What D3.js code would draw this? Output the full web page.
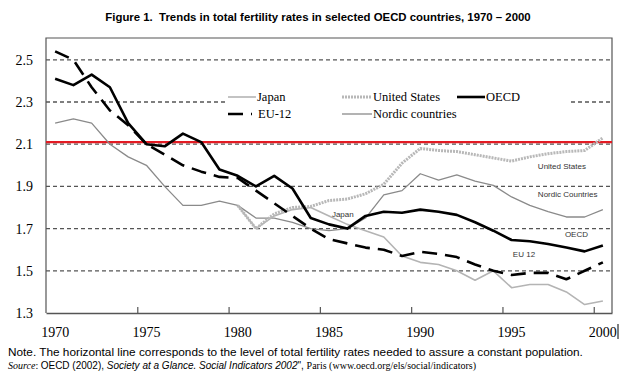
<!DOCTYPE html>
<html>
<head>
<meta charset="utf-8">
<script src="https://cdn.jsdelivr.net/npm/d3@7"></script>
<style>
  body { margin: 0; background: #fff; }
  text { white-space: pre; }
</style>
</head>
<body>
<div id="chart"></div>
<script>
// values
const years = d3.range(1970, 2001)
const oecd = [2.41, 2.38, 2.43, 2.37, 2.20, 2.10, 2.09, 2.15, 2.11, 1.98, 1.95, 1.90, 1.95, 1.89, 1.75, 1.72, 1.70, 1.76, 1.78, 1.775, 1.79, 1.78, 1.765, 1.73, 1.69, 1.646, 1.64, 1.627, 1.61, 1.592, 1.62]
const eu12 = [2.54, 2.50, 2.37, 2.26, 2.19, 2.10, 2.05, 2.00, 1.97, 1.945, 1.94, 1.88, 1.82, 1.76, 1.70, 1.65, 1.63, 1.61, 1.60, 1.57, 1.59, 1.58, 1.565, 1.53, 1.50, 1.48, 1.49, 1.49, 1.46, 1.50, 1.54]
const nordic = [2.20, 2.22, 2.20, 2.10, 2.04, 2.00, 1.90, 1.81, 1.81, 1.83, 1.81, 1.75, 1.75, 1.73, 1.70, 1.69, 1.70, 1.75, 1.86, 1.88, 1.96, 1.93, 1.955, 1.925, 1.905, 1.85, 1.81, 1.78, 1.755, 1.755, 1.79]
// Japan and US only from 1980
const japan = [null, null, null, null, null, null, null, null, null, null, 1.81, 1.70, 1.76, 1.79, 1.80, 1.76, 1.72, 1.69, 1.66, 1.57, 1.54, 1.53, 1.50, 1.455, 1.50, 1.42, 1.435, 1.435, 1.40, 1.34, 1.357]
const us = [null, null, null, null, null, null, null, null, null, null, 1.81, 1.70, 1.77, 1.80, 1.805, 1.833, 1.84, 1.865, 1.91, 2.01, 2.08, 2.07, 2.065, 2.05, 2.035, 2.02, 2.04, 2.055, 2.065, 2.07, 2.13]
const replacement = 2.11

const yTicks = [1.3, 1.5, 1.7, 1.9, 2.1, 2.3, 2.5]
const gridValues = [1.5, 1.7, 1.9, 2.1, 2.3, 2.5]
const xTicks = [1970, 1975, 1980, 1985, 1990, 1995, 2000]

const title = 'Figure 1.  Trends in total fertility rates in selected OECD countries, 1970 \u2013 2000'

// sizes
const total_width = 638
const total_height = 377
const margins = { top: 38, left: 46, right: 26, bottom: 64 }
const width = total_width - margins.left - margins.right
const height = total_height - margins.top - margins.bottom

const serif = '"Liberation Serif", "Times New Roman", serif'
const sans = '"Liberation Sans", Arial, sans-serif'

const svg = d3.select('#chart').append('svg')
  .attr('width', total_width)
  .attr('height', total_height)
  .style('display', 'block')
  .style('background', '#fff')

svg.append('text')
  .attr('x', 318).attr('y', 21)
  .attr('text-anchor', 'middle')
  .style('font-family', sans).style('font-weight', 'bold').style('font-size', '11.4px')
  .text(title)

const g = svg.append('g')
  .attr('transform', `translate(${margins.left}, ${margins.top})`)

// category axis: each year is one slot, points in the middle of it
const x = d3.scaleLinear().domain([1970, 2001]).range([0, width])
const y = d3.scaleLinear().domain([1.3, 1.3 + height / 211]).range([height, 0])
const xc = yr => x(yr + 0.5)

// grid lines
g.selectAll('.grid')
  .data(gridValues)
  .enter().append('line')
  .attr('class', 'grid')
  .attr('x1', 0).attr('x2', width)
  .attr('y1', d => y(d)).attr('y2', d => y(d))
  .attr('stroke', '#555').attr('stroke-width', 1.3)
  .attr('stroke-dasharray', '4,3')

// frame
g.append('path')
  .attr('d', `M0,${height}V0H${width}V${height}`)
  .attr('fill', 'none').attr('stroke', '#555').attr('stroke-width', 1.2)

// y labels
g.selectAll('.ylab')
  .data(yTicks)
  .enter().append('text')
  .attr('x', -13).attr('y', d => y(d) + 5)
  .attr('text-anchor', 'end')
  .style('font-family', serif).style('font-size', '14px')
  .text(d => d.toFixed(1))

// x axis with inward ticks
const xAxisCall = d3.axisBottom(x)
  .tickValues(xTicks.slice(1))
  .tickSizeInner(-6).tickSizeOuter(0)
  .tickFormat('')
const xAxis = g.append('g')
  .attr('transform', `translate(0, ${height})`)
  .call(xAxisCall)
xAxis.select('.domain').attr('stroke', '#555').attr('stroke-width', 1.5)
xAxis.selectAll('.tick line').attr('stroke', '#555').attr('stroke-width', 1.2)

g.selectAll('.xlab')
  .data(xTicks)
  .enter().append('text')
  .attr('x', d => xc(d)).attr('y', height + 24)
  .attr('text-anchor', 'middle')
  .style('font-family', serif).style('font-size', '14px')
  .text(d => d)

// little stray bar after 2000
g.append('line')
  .attr('x1', width + 6).attr('x2', width + 6)
  .attr('y1', height + 11).attr('y2', height + 26)
  .attr('stroke', '#000').attr('stroke-width', 1)

// legend box covers the grid
const leg = g.append('g')
leg.append('rect')
  .attr('x', 179).attr('y', 49).attr('width', 343).attr('height', 36)
  .attr('fill', '#fff')

// replacement level line
g.append('line')
  .attr('x1', 0).attr('x2', width)
  .attr('y1', y(replacement)).attr('y2', y(replacement))
  .attr('stroke', '#e31b23').attr('stroke-width', 2.2)

const series = [
  { name: 'Nordic countries', values: nordic, stroke: '#8a8a8a', w: 1.3, dash: null },
  { name: 'Japan', values: japan, stroke: '#b4b4b4', w: 1.6, dash: null },
  { name: 'United States', values: us, stroke: '#b8b8b8', w: 3, dash: '2,1' },
  { name: 'EU-12', values: eu12, stroke: '#000', w: 2.6, dash: '15,8' },
  { name: 'OECD', values: oecd, stroke: '#000', w: 2.6, dash: null }
]

const line = d3.line()
  .defined(d => d[1] !== null)
  .x(d => xc(d[0]))
  .y(d => y(d[1]))

series.forEach(s => {
  g.append('path')
    .datum(years.map((yr, i) => [yr, s.values[i]]))
    .attr('fill', 'none')
    .attr('stroke', s.stroke)
    .attr('stroke-width', s.w)
    .attr('stroke-dasharray', s.dash)
    .attr('stroke-linejoin', 'round')
    .attr('d', line)
})

// legend entries
const legendItems = [
  { name: 'Japan', lx: 182, ly: 59, len: 28 },
  { name: 'EU-12', lx: 182, ly: 76, len: 24 },
  { name: 'United States', lx: 296, ly: 59, len: 30 },
  { name: 'Nordic countries', lx: 296, ly: 76, len: 30 },
  { name: 'OECD', lx: 411, ly: 59, len: 28 }
]
legendItems.forEach(it => {
  const s = series.find(d => d.name === it.name)
  leg.append('line')
    .attr('x1', it.lx).attr('x2', it.lx + it.len)
    .attr('y1', it.ly).attr('y2', it.ly)
    .attr('stroke', s.stroke).attr('stroke-width', s.w)
    .attr('stroke-dasharray', s.dash)
  leg.append('text')
    .attr('x', it.name === 'EU-12' ? it.lx + 30 : it.lx + it.len + 1).attr('y', it.ly + 4)
    .style('font-family', serif).style('font-size', '12.5px')
    .text(it.name)
})

// labels beside the lines
const inline = [
  { text: 'Japan', year: 1985.66, value: 1.755 },
  { text: 'United States', year: 1996.94, value: 1.982 },
  { text: 'Nordic Countries', year: 1996.94, value: 1.849 },
  { text: 'OECD', year: 1998.42, value: 1.66 },
  { text: 'EU 12', year: 1995.57, value: 1.565 }
]
g.selectAll('.inl')
  .data(inline)
  .enter().append('text')
  .attr('x', d => x(d.year)).attr('y', d => y(d.value))
  .style('font-family', sans).style('font-size', '8px').attr('fill', '#333')
  .text(d => d.text)

// notes under the chart
svg.append('text')
  .attr('x', 8).attr('y', 356)
  .style('font-family', sans).style('font-size', '11.8px')
  .text('Note. The horizontal line corresponds to the level of total fertility rates needed to assure a constant population.')

const src = svg.append('text')
  .attr('x', 8).attr('y', 369)
  .style('font-size', '10px')
src.append('tspan').style('font-family', serif).style('font-style', 'italic').text('Source')
src.append('tspan').style('font-family', serif).text(': ')
src.append('tspan').style('font-family', sans).text('OECD (2002), ')
src.append('tspan').style('font-family', sans).style('font-style', 'italic').text('Society at a Glance. Social Indicators 2002')
src.append('tspan').style('font-family', sans).text('", ')
src.append('tspan').style('font-family', serif).text('Paris (www.oecd.org/els/social/indicators)')
</script>
</body>
</html>
